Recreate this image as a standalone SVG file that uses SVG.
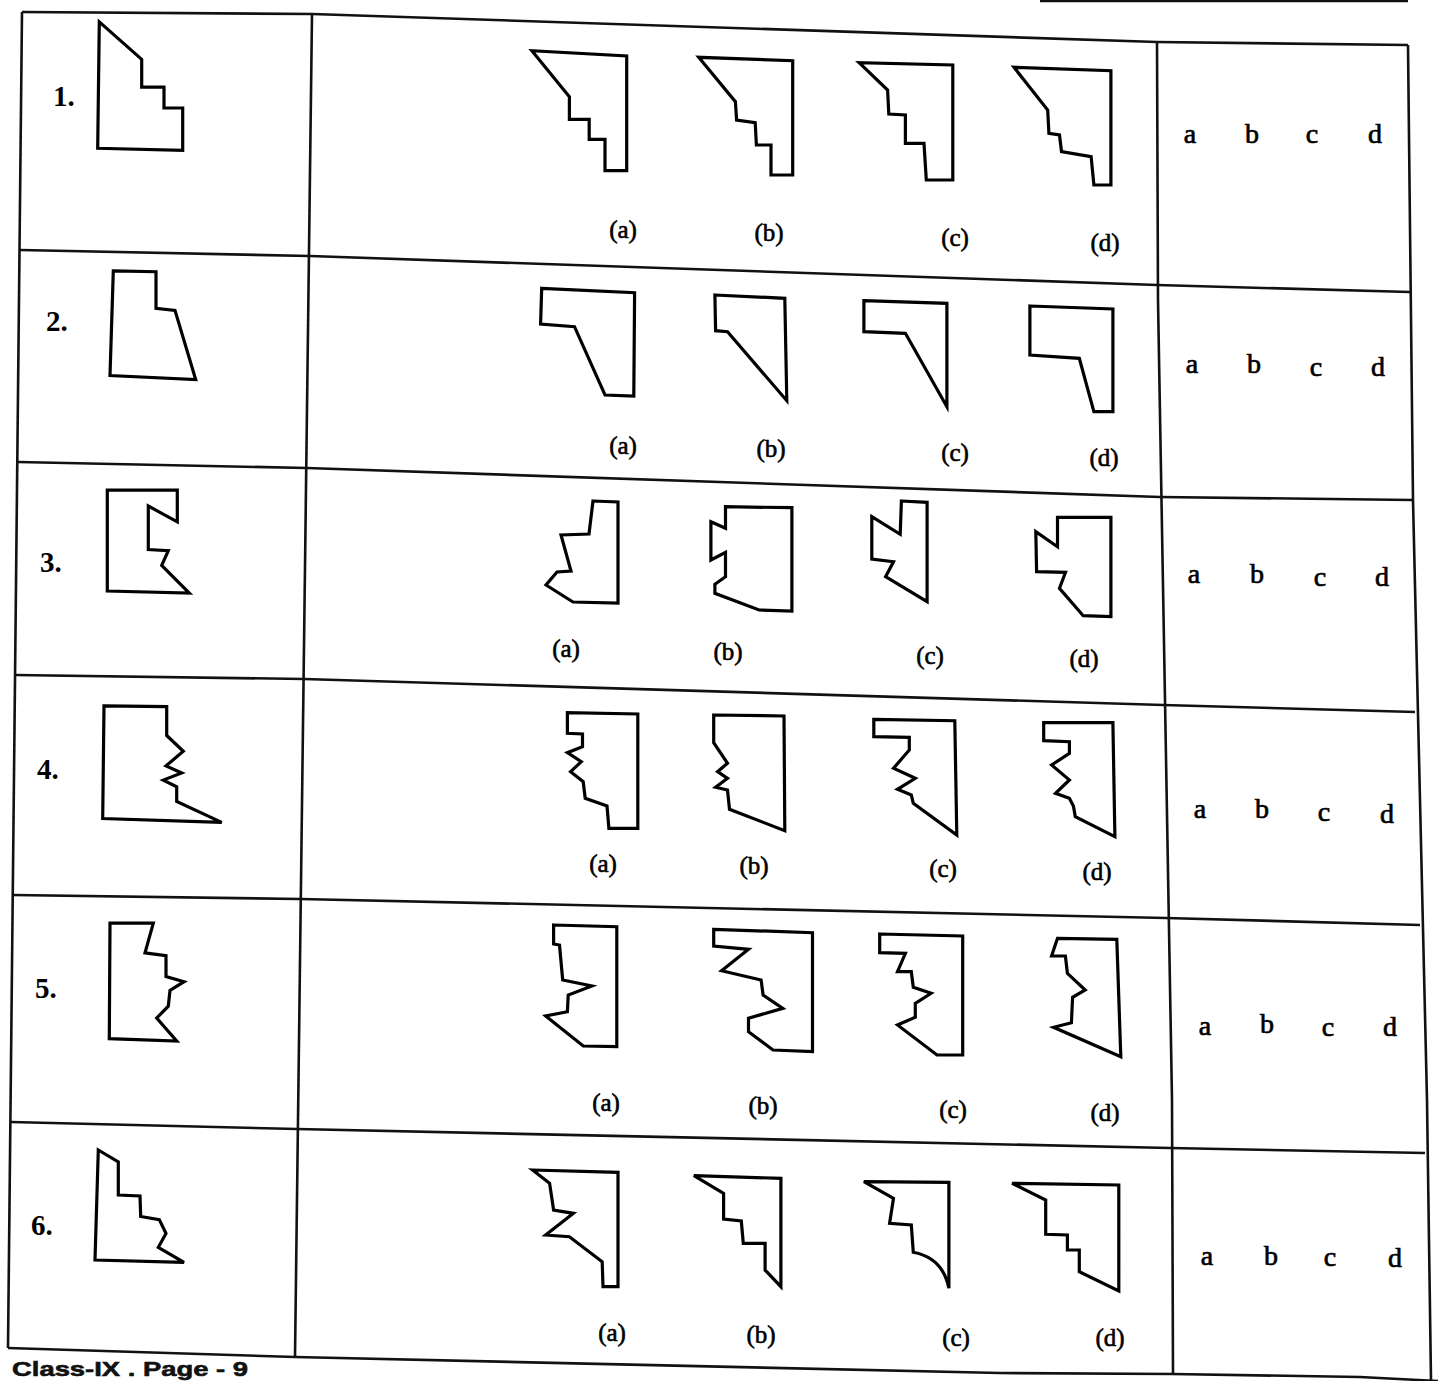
<svg xmlns="http://www.w3.org/2000/svg" width="1438" height="1381" viewBox="0 0 1438 1381">
<style>
.g{fill:none;stroke:#111;stroke-width:2.6;stroke-linejoin:round}
.s{fill:none;stroke:#000;stroke-width:3.2;stroke-linejoin:miter}
.n{font-family:"Liberation Serif","Times New Roman",serif;font-weight:bold;font-size:29px;fill:#000}
.o{font-family:"Liberation Serif","Times New Roman",serif;font-size:25px;fill:#000;stroke:#000;stroke-width:0.6;text-anchor:middle}
.r{font-family:"Liberation Serif","Times New Roman",serif;font-size:28px;fill:#000;stroke:#000;stroke-width:0.7;text-anchor:middle}
.f{font-family:"Liberation Sans",Arial,sans-serif;font-weight:bold;font-size:21px;fill:#111;stroke:#111;stroke-width:0.6}
</style>
<rect width="1438" height="1381" fill="#fff"/>
<g id="grid">
<polyline class="g" points="1040,1 1408,1" stroke-width="3"/>
<polyline class="g" points="22,12 312,14 1157,42 1408,45"/>
<polyline class="g" points="20,250 310,256 1157,285 1410,292"/>
<polyline class="g" points="18,462 307,468 1160,497 1412,500"/>
<polyline class="g" points="15,675 304,679 1163,705 1415,712"/>
<polyline class="g" points="13,895 300,899 1166,918 1420,925"/>
<polyline class="g" points="11,1122 297,1129 1170,1148 1425,1153"/>
<polyline class="g" points="8,1348 295,1357 1000,1373 1172,1374 1360,1377 1438,1381"/>
<polyline class="g" points="22,12 8,1348"/>
<polyline class="g" points="312,14 295,1357"/>
<polyline class="g" points="1157,42 1158,300 1165,700 1172,1100 1173,1374"/>
<polyline class="g" points="1408,45 1413,500 1420,800 1427,1100 1431,1381"/>
</g>
<g id="row1">
<text class="n" x="53" y="106">1.</text>
<polygon class="s" points="99.3,21.9 141.7,59.4 141.7,87.1 164,87.1 164,108 182.7,108 182.7,150.3 97.7,148.3"/>
<polygon class="s" points="531.9,50.7 569.4,96.7 569.4,119.3 589.2,119.3 589.2,139.3 605,139.3 605,170.7 626.7,170.7 626.7,56"/>
<polygon class="s" points="698.7,57.3 735.4,101.7 736.6,120 755.2,122.7 756.4,145 771,145 771,175 792.7,175 792.7,60.7"/>
<polygon class="s" points="859.1,62.7 887.6,90 888.8,114 905.4,115 905.4,143.3 924,143.3 926.3,180 952.8,180 952.8,65"/>
<polygon class="s" points="1014,67.3 1047.7,110 1048.9,133.3 1059.5,135 1061.5,151.7 1091.1,156.7 1093.9,185 1110.9,185 1110.9,70.7"/>
<text class="o" x="623" y="238">(a)</text><text class="o" x="769" y="241">(b)</text><text class="o" x="955" y="246">(c)</text><text class="o" x="1105" y="251">(d)</text>
<text class="r" x="1190" y="143">a</text><text class="r" x="1252" y="143">b</text><text class="r" x="1312" y="143">c</text><text class="r" x="1375" y="143">d</text>
</g>
<g id="row2">
<text class="n" x="46" y="331">2.</text>
<polygon class="s" points="113.3,270.9 156,271.7 156,308.4 175,310.4 195.7,379.6 110,375.6"/>
<polygon class="s" points="541.7,288.3 634.6,292.7 633.8,396 605,395 574.5,326.7 540.6,324"/>
<polygon class="s" points="714.9,295 784.8,298.3 786.8,400.7 727.5,331.7 715.6,330.7"/>
<polygon class="s" points="863.9,300.7 946.9,303.3 946.9,406.7 905.4,333.3 863.9,331.7"/>
<polygon class="s" points="1029.9,306 1112.9,309 1112.9,411.7 1093.9,411.7 1079.3,358.3 1029.9,355"/>
<text class="o" x="623" y="454">(a)</text><text class="o" x="771" y="457">(b)</text><text class="o" x="955" y="461">(c)</text><text class="o" x="1104" y="466">(d)</text>
<text class="r" x="1192" y="373">a</text><text class="r" x="1254" y="373">b</text><text class="r" x="1316" y="376">c</text><text class="r" x="1378" y="376">d</text>
</g>
<g id="row3">
<text class="n" x="40" y="572">3.</text>
<polygon class="s" points="107.3,490.2 177.3,490.2 177.3,521.9 148.3,506 148.3,549.5 168.3,550.7 161.7,565.3 189.3,593 107.3,591"/>
<polygon class="s" points="593,501 618,502 618,603 573,602 546,585 557,572 571,571 561,535 589,534"/>
<polygon class="s" points="725.5,506.7 725.5,528.3 710.9,521.7 710.9,560 725.5,552.3 725.5,576.7 714.9,584.3 714.9,593.3 759.1,610 791.9,611 791.9,507.7"/>
<polygon class="s" points="901.4,501 927.1,502.3 927.1,601.7 885.6,576.7 893.5,561.7 871.8,559 871.8,516.7 900.2,534.3"/>
<polygon class="s" points="1057.5,517.3 1110.9,517.3 1110.9,616.7 1083.2,615.7 1059.5,588.3 1065.5,572.3 1036.6,571.7 1035.8,531.7 1057.5,546.7"/>
<text class="o" x="566" y="657">(a)</text><text class="o" x="728" y="660">(b)</text><text class="o" x="930" y="664">(c)</text><text class="o" x="1084" y="667">(d)</text>
<text class="r" x="1194" y="583">a</text><text class="r" x="1257" y="583">b</text><text class="r" x="1320" y="586">c</text><text class="r" x="1382" y="586">d</text>
</g>
<g id="row4">
<text class="n" x="37" y="779">4.</text>
<polygon class="s" points="104,705.8 166.7,706.6 166.7,735.5 183.3,751.3 166,765.9 181.7,773 163.3,780.1 176.7,786.8 176.7,801.5 221.7,822.4 102.7,818.5"/>
<polygon class="s" points="567.4,712.7 567.4,733.3 582.5,734 582.5,746.7 567.4,752.7 581.3,761.7 570.6,771.7 583.2,781.7 585.2,798.3 607,806 608.9,828.3 637.8,828.3 637.8,714"/>
<polygon class="s" points="713.7,715 784,716 784.8,830.7 729.5,809.3 727.5,790 715.6,787.3 727.5,778.3 717.6,771.7 727.5,763.3 713.7,742.7"/>
<polygon class="s" points="873.8,719.3 954.8,720.7 956.8,835 913.3,803.3 911.3,795 897.5,789.3 915.3,778.3 893.5,768.3 909.3,750 909.3,737.3 873.8,736.7"/>
<polygon class="s" points="1043.7,722.7 1112.9,722.7 1114.9,836.7 1075.3,816.7 1073.4,806 1069.4,798.3 1055.5,793.3 1069.4,780 1051.6,765 1069.4,753.3 1069.4,741.7 1043.7,740.7"/>
<text class="o" x="603" y="872">(a)</text><text class="o" x="754" y="874">(b)</text><text class="o" x="943" y="877">(c)</text><text class="o" x="1097" y="880">(d)</text>
<text class="r" x="1200" y="818">a</text><text class="r" x="1262" y="818">b</text><text class="r" x="1324" y="821">c</text><text class="r" x="1387" y="823">d</text>
</g>
<g id="row5">
<text class="n" x="35" y="998">5.</text>
<polygon class="s" points="110,923.2 153.3,923.2 145,952.8 166,955.6 166,976.6 184,981.7 170,990.4 168.3,1006.2 156.7,1018 176.7,1041 109.3,1038.6"/>
<polygon class="s" points="553.6,925 616.8,926.7 616.8,1046.7 583.2,1046 545.7,1016 567.4,1011.7 568.2,995 591.9,986 562.7,980 559.5,945 553.6,944"/>
<polygon class="s" points="713.7,929.3 812.5,932.7 812.5,1051.7 773,1050 748.5,1031.7 748.5,1018.3 782.8,1008.3 763.1,995 761.1,980 721.6,970.7 748.5,949.3 713.7,946"/>
<polygon class="s" points="879.7,934 962.7,936 962.7,1055 937,1055 897.5,1025 915.3,1017.3 915.3,1003.3 931.1,993.3 913.3,987.3 911.3,971.7 897.5,971.7 905.4,953.3 879.7,952.7"/>
<polygon class="s" points="1057.5,938.3 1116.8,939.3 1120.8,1056.7 1053.6,1027.3 1071.4,1022.7 1072.6,997.3 1085.2,990 1067.4,973.3 1065.4,956 1051.6,956"/>
<text class="o" x="606" y="1111">(a)</text><text class="o" x="763" y="1114">(b)</text><text class="o" x="953" y="1118">(c)</text><text class="o" x="1105" y="1121">(d)</text>
<text class="r" x="1205" y="1035">a</text><text class="r" x="1267" y="1033">b</text><text class="r" x="1328" y="1036">c</text><text class="r" x="1390" y="1036">d</text>
</g>
<g id="row6">
<text class="n" x="31" y="1235">6.</text>
<polygon class="s" points="98.3,1150 118.3,1162 118.3,1195 140,1196 140.7,1216.5 159.3,1219.6 166,1233.5 158.3,1247.3 184,1262.3 95,1260"/>
<polygon class="s" points="532.6,1170 618,1172.3 618,1286.7 603,1286.7 602.2,1261.7 569.4,1236.7 545.7,1235 573.4,1213.3 553.6,1210 549.6,1183.3"/>
<polygon class="s" points="693.9,1175.7 780.9,1178.3 780.9,1286.7 765.1,1270 765.1,1243.3 743.3,1243.3 741.3,1221 723.6,1219 723.6,1193.3"/>
<path class="s" d="M863.9,1181.7 L948.9,1182.3 L948.9,1288.3 Q943,1258 913.3,1252.3 L911.3,1225 L889.6,1223.3 L893.5,1198.3 Z"/>
<polygon class="s" points="1012.1,1183.3 1118.8,1185 1118.8,1291 1079.3,1271.7 1079.3,1250 1067.4,1250 1067.4,1235 1045.7,1234.3 1045.7,1200"/>
<text class="o" x="612" y="1341">(a)</text><text class="o" x="761" y="1343">(b)</text><text class="o" x="956" y="1346">(c)</text><text class="o" x="1110" y="1346">(d)</text>
<text class="r" x="1207" y="1265">a</text><text class="r" x="1271" y="1265">b</text><text class="r" x="1330" y="1266">c</text><text class="r" x="1395" y="1267">d</text>
</g>
<text class="f" x="12" y="1376" textLength="236" lengthAdjust="spacingAndGlyphs">Class-IX . Page - 9</text>
</svg>
